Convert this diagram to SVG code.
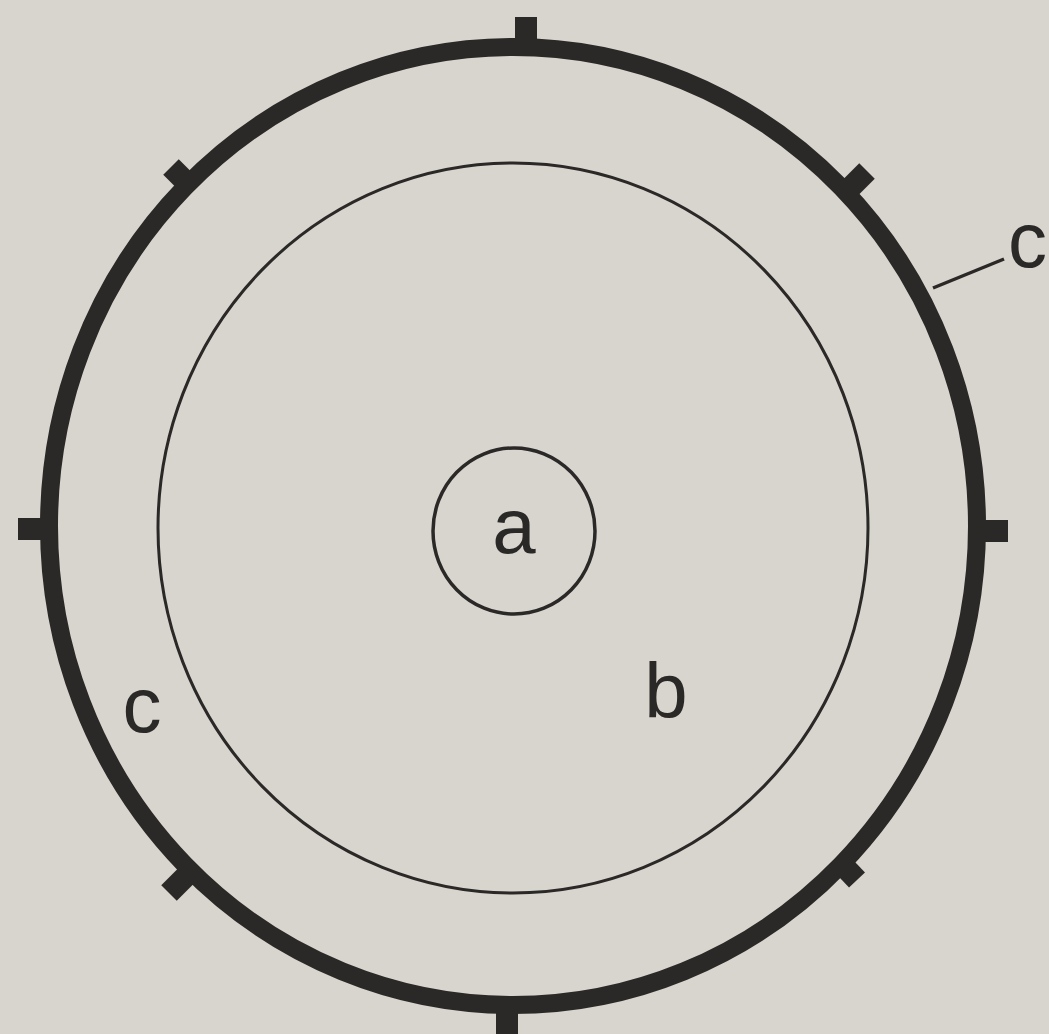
<svg xmlns="http://www.w3.org/2000/svg" width="1049" height="1034" viewBox="0 0 1049 1034">
<style>
.ring{fill:none;stroke:#2b2927}
.tick{stroke:#2b2927;stroke-width:22;stroke-linecap:butt}
.lbl{font-family:"Liberation Sans",Arial,sans-serif;font-size:78px;fill:#2b2927}
</style>
<rect width="1049" height="1034" fill="#d8d4ce"/>
<g id="outer">
<ellipse class="ring" cx="513" cy="526" rx="464" ry="479" stroke-width="18"/>
<line class="tick" x1="526" y1="50" x2="526" y2="17"/>
<line class="tick" x1="972" y1="531" x2="1008" y2="531"/>
<line class="tick" x1="507" y1="998" x2="507" y2="1034"/>
<line class="tick" x1="54" y1="529" x2="18" y2="529"/>
<line class="tick" x1="192" y1="188" x2="171" y2="167"/>
<line class="tick" x1="846" y1="192" x2="867" y2="171"/>
<line class="tick" x1="190" y1="872" x2="169" y2="893"/>
<line class="tick" x1="838" y1="860" x2="857" y2="880"/>
</g>
<g id="inner">
<ellipse class="ring" cx="513" cy="528" rx="355" ry="365" stroke-width="3"/>
</g>
<g id="core">
<ellipse class="ring" cx="514" cy="531" rx="81" ry="83" stroke-width="3.5"/>
</g>
<g id="connectors">
<line x1="933" y1="288" x2="1004" y2="259" stroke="#2b2927" stroke-width="3.5"/>
</g>
<g id="labels">
<text class="lbl" x="514" y="553" text-anchor="middle">a</text>
<text class="lbl" x="666" y="718" text-anchor="middle">b</text>
<text class="lbl" x="142" y="732" text-anchor="middle">c</text>
<text class="lbl" x="1008" y="267">c</text>
</g>
</svg>
